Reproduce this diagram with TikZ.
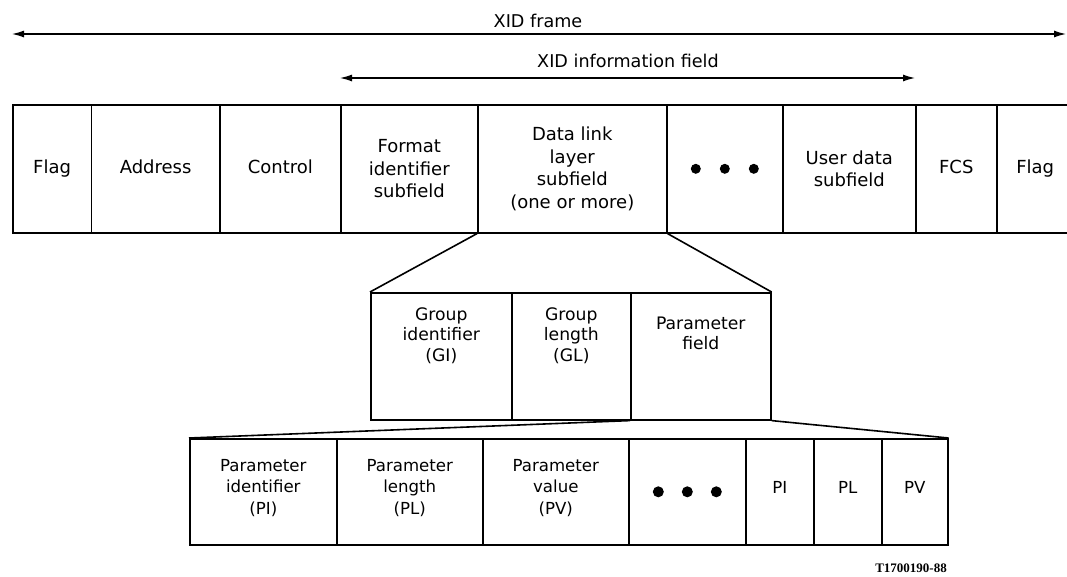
\documentclass[tikz,border=0pt]{standalone}
\usepackage{fontspec}
\setmainfont{DejaVu Sans}
\newfontfamily\refserif{Liberation Serif}
\usetikzlibrary{arrows.meta}
\begin{document}
\begin{tikzpicture}[x=1pt,y=-1pt,
  cell/.style={draw, line width=1.6pt, inner sep=0pt, anchor=north west, align=center},
  toprow/.style={cell, minimum height=128pt, font=\fontsize{18}{22.5}\selectfont},
  midrow/.style={cell, minimum height=127pt},
  midtext/.style={align=center, inner sep=0pt, font=\fontsize{17.2}{20.5}\selectfont},
  lowrow/.style={cell, minimum height=106pt},
  lowtext/.style={align=center, inner sep=0pt, font=\fontsize{16.6}{21.5}\selectfont},
  dimline/.style={line width=1.2pt, {Latex[length=12pt,width=7pt]}-{Latex[length=12pt,width=7pt]}},
  lbl/.style={font=\fontsize{17.6}{21}\selectfont, inner sep=0pt},
  blob/.style={circle, fill, inner sep=0pt, minimum size=10pt},
  link/.style={line width=1.6pt}]
\useasboundingbox (0,0) rectangle (1067,576);

% top row
\node[toprow, minimum width=78.6pt] (flagA) at (12,104) {\strut Flag};
\node[toprow, minimum width=128.4pt] (addr) at (90.6,104) {\strut Address};
\node[toprow, minimum width=121pt] (ctrl) at (219,104) {\strut Control};
\node[toprow, minimum width=137pt] (fmt) at (340,104) {Format\\identifier\\subfield};
\node[toprow, minimum width=189pt] (dll) at (477,104) {Data link\\layer\\subfield\\(one or more)};
\node[toprow, minimum width=116pt] (dotsA) at (666,104) {};
\node[toprow, minimum width=133pt] (user) at (782,104) {User data\\subfield};
\node[toprow, minimum width=81pt] (fcs) at (915,104) {\strut FCS};
\node[toprow, minimum width=90pt, text width=71pt, align=left] (flagB) at (996,104) {\hspace*{10pt}\strut Flag};
\node[blob] (dA1) at ([xshift=-29pt]dotsA.center) {};
\node[blob] (dA2) at (dotsA.center) {};
\node[blob] (dA3) at ([xshift=29pt]dotsA.center) {};

% dimension arrows
\coordinate (frL) at (12,34);
\coordinate (frR) at (1066,34);
\draw[dimline] (frL) -- (frR);
\node[lbl, anchor=base] (frlbl) at (538,27) {XID frame};
\coordinate (ifL) at (fmt.north west |- 0,78);
\coordinate (ifR) at (fcs.north west |- 0,78);
\draw[dimline] (ifL) -- (ifR);
\node[lbl, anchor=base] (iflbl) at (628,67) {XID information field};

% second row
\node[midrow, minimum width=141pt] (gi) at (370,292) {};
\node[midrow, minimum width=119pt] (gl) at (511,292) {};
\node[midrow, minimum width=140pt] (pf) at (630,292) {};
\node[midtext] (gitxt) at ([yshift=21pt]gi.center) {Group\\identifier\\(GI)};
\node[midtext] (gltxt) at ([yshift=21pt]gl.center) {Group\\length\\(GL)};
\node[midtext] (pftxt) at ([yshift=23pt]pf.center) {Parameter\\field};
\draw[link] (dll.south west) -- (gi.north west);
\draw[link] (dll.south east) -- (pf.north east);

% third row
\node[lowrow, minimum width=147pt] (piA) at (189,438) {};
\node[lowrow, minimum width=146pt] (plA) at (336,438) {};
\node[lowrow, minimum width=146pt] (pvA) at (482,438) {};
\node[lowrow, minimum width=117pt] (dotsB) at (628,438) {};
\node[lowrow, minimum width=68pt] (piB) at (745,438) {};
\node[lowrow, minimum width=68pt] (plB) at (813,438) {};
\node[lowrow, minimum width=66pt] (pvB) at (881,438) {};
\node[lowtext] (piAt) at ([yshift=4pt]piA.center) {Parameter\\identifier\\(PI)};
\node[lowtext] (plAt) at ([yshift=4pt]plA.center) {Parameter\\length\\(PL)};
\node[lowtext] (pvAt) at ([yshift=4pt]pvA.center) {Parameter\\value\\(PV)};
\node[lowtext] (piBt) at ([yshift=3pt]piB.center) {\strut PI};
\node[lowtext] (plBt) at ([yshift=3pt]plB.center) {\strut PL};
\node[lowtext] (pvBt) at ([yshift=3pt]pvB.center) {\strut PV};
\node[blob, minimum size=11pt] (dB1) at ([xshift=-29pt]dotsB.center) {};
\node[blob, minimum size=11pt] (dB2) at (dotsB.center) {};
\node[blob, minimum size=11pt] (dB3) at ([xshift=29pt]dotsB.center) {};
\draw[link] (pf.south west) -- (piA.north west);
\draw[link] (pf.south east) -- (pvB.north east);

\node[anchor=base east, inner sep=0pt, font=\refserif\bfseries\fontsize{13}{15}\selectfont] (ref) at (947,572) {T1700190-88};
\end{tikzpicture}
\end{document}
